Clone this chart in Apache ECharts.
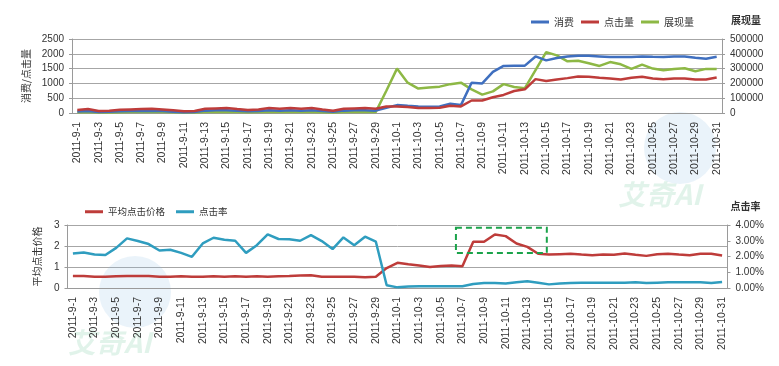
<!DOCTYPE html>
<html>
<head>
<meta charset="utf-8">
<script src="https://cdn.jsdelivr.net/npm/echarts@6/dist/echarts.min.js"></script>
<style>
html,body{margin:0;padding:0;background:#fff;}
#c{width:779px;height:366px;}
</style>
</head>
<body>
<div id="c"></div>
<script>
const dates = ['2011-9-1','2011-9-2','2011-9-3','2011-9-4','2011-9-5','2011-9-6','2011-9-7','2011-9-8','2011-9-9','2011-9-10',
'2011-9-11','2011-9-12','2011-9-13','2011-9-14','2011-9-15','2011-9-16','2011-9-17','2011-9-18','2011-9-19','2011-9-20',
'2011-9-21','2011-9-22','2011-9-23','2011-9-24','2011-9-25','2011-9-26','2011-9-27','2011-9-28','2011-9-29','2011-9-30',
'2011-10-1','2011-10-2','2011-10-3','2011-10-4','2011-10-5','2011-10-6','2011-10-7','2011-10-8','2011-10-9','2011-10-10',
'2011-10-11','2011-10-12','2011-10-13','2011-10-14','2011-10-15','2011-10-16','2011-10-17','2011-10-18','2011-10-19','2011-10-20',
'2011-10-21','2011-10-22','2011-10-23','2011-10-24','2011-10-25','2011-10-26','2011-10-27','2011-10-28','2011-10-29','2011-10-30','2011-10-31'];

// 消费 (top, left axis)
const spend = [50,70,30,40,60,65,70,80,65,45,25,30,80,90,95,75,55,65,95,80,95,80,95,65,40,80,90,95,80,180,
267,244,222,211,222,311,267,1022,1000,1389,1589,1600,1600,1911,1778,1856,1911,1933,1933,1911,1889,1889,1889,1911,1900,1890,1911,1911,1867,1833,1900];
// 点击量 (top, left axis)
const clicks = [100,133,67,78,111,122,133,144,122,89,56,67,144,156,167,133,100,122,167,144,167,144,167,122,78,144,156,167,144,222,
222,200,167,167,178,244,222,422,422,533,611,744,800,1144,1078,1133,1178,1233,1222,1189,1167,1133,1189,1222,1167,1144,1167,1167,1133,1133,1200];
// 展现量 (top, right axis)
const impressions = [5000,6000,4000,4000,5000,6000,6000,7000,6000,5000,3000,4000,6000,7000,8000,6000,5000,6000,7000,6000,7000,6000,7000,5000,4000,6000,7000,7000,6000,150000,
300000,205000,165000,172000,178000,195000,205000,160000,124000,146000,195000,176000,168000,290000,411000,389000,349000,353000,336000,318000,344000,329000,298000,327000,300000,289000,298000,302000,282000,298000,298000];
// 平均点击价格 (bottom, left axis)
const avgCpc = [0.57,0.57,0.54,0.54,0.56,0.57,0.57,0.57,0.54,0.54,0.56,0.53,0.54,0.56,0.54,0.56,0.54,0.56,0.54,0.56,0.57,0.59,0.61,0.54,0.54,0.54,0.54,0.51,0.54,0.95,
1.20,1.13,1.07,1.00,1.05,1.07,1.04,2.20,2.20,2.55,2.47,2.12,1.96,1.63,1.59,1.61,1.63,1.59,1.56,1.59,1.58,1.64,1.58,1.53,1.61,1.63,1.59,1.56,1.63,1.63,1.55];
// 点击率 in percent (bottom, right axis)
const ctr = [2.19,2.26,2.13,2.09,2.55,3.15,2.98,2.79,2.38,2.43,2.23,1.98,2.83,3.19,3.06,3.00,2.23,2.72,3.40,3.11,3.09,3.00,3.36,2.98,2.47,3.21,2.72,3.26,2.94,0.17,
0.04,0.09,0.11,0.11,0.11,0.11,0.11,0.26,0.32,0.32,0.28,0.36,0.43,0.34,0.23,0.28,0.32,0.34,0.34,0.34,0.34,0.34,0.36,0.32,0.34,0.36,0.36,0.36,0.36,0.32,0.38];

const leftTicksTop = {min:0, max:2500, interval:500};
const rightTicksTop = {min:0, max:500000, interval:100000};
const leftTicksBot = {min:0, max:3, interval:1};
const rightTicksBot = {min:0, max:4, interval:1};
// highlight box (category index range, left-axis value range)
const boxRange = {x0:35.4, x1:43.8, y0:2.87, y1:1.67};

const FONT = "'Liberation Sans', Arial, 'Noto Sans CJK SC', sans-serif";
const CJK = "'Noto Sans CJK SC', sans-serif";
const C_BLUE = '#3F6FBF', C_RED = '#BE3C3A', C_GREEN = '#8DB845', C_TEAL = '#2F9DBF';
const AX = '#9a9a9a';

const chart = echarts.init(document.getElementById('c'), null, {renderer:'canvas'});

function xAx(grid){
  return {type:'category', gridIndex:grid, data:dates, boundaryGap:true,
    axisLine:{lineStyle:{color:AX}}, axisTick:{show:false},
    axisLabel:{interval:1, rotate:90, fontSize:10.5, margin:9, color:'#333', fontFamily:FONT}};
}
function yAx(grid, t, pos, extra){
  return Object.assign({type:'value', gridIndex:grid, position:pos, min:t.min, max:t.max, interval:t.interval,
    axisLine:{show:true, lineStyle:{color:AX}},
    axisTick:{show:true, length:3, lineStyle:{color:AX}},
    splitLine:{show:pos==='left', lineStyle:{color:'#a6a6a6'}},
    axisLabel:{fontSize:10, color:'#333', fontFamily:FONT, margin:8, formatter:v=>String(v)}}, extra||{});
}

const option = {
  animation:false,
  backgroundColor:'#fff',
  grid:[
    {left:72, top:39, width:650, height:74},
    {left:67.5, top:225, width:660, height:63}
  ],
  legend:[
    {left:526, top:12, itemWidth:18, itemHeight:3, itemGap:7, icon:'rect',
     textStyle:{fontSize:10, fontFamily:CJK, color:'#333'},
     data:['消费','点击量','展现量']},
    {left:80, top:202, itemWidth:18, itemHeight:3, itemGap:11, icon:'rect',
     textStyle:{fontSize:9.5, fontFamily:CJK, color:'#333'},
     data:['平均点击价格','点击率']}
  ],
  xAxis:[xAx(0), xAx(1)],
  yAxis:[
    yAx(0, leftTicksTop, 'left', {name:'消费/点击量', nameLocation:'middle', nameGap:40,
      nameTextStyle:{fontSize:10, fontFamily:CJK, color:'#333'}}),
    yAx(0, rightTicksTop, 'right', {name:'展现量', nameLocation:'end', nameGap:14,
      nameTextStyle:{fontSize:10, fontWeight:'bold', fontFamily:CJK, color:'#333', align:'left', padding:[0,0,0,9]}}),
    yAx(1, leftTicksBot, 'left', {name:'平均点击价格', nameLocation:'middle', nameGap:25,
      nameTextStyle:{fontSize:10, fontFamily:CJK, color:'#333'}}),
    yAx(1, rightTicksBot, 'right', {name:'点击率', nameLocation:'end', nameGap:14,
      nameTextStyle:{fontSize:10, fontWeight:'bold', fontFamily:CJK, color:'#333', align:'left', padding:[0,0,0,3]},
      axisLabel:{fontSize:10, color:'#333', fontFamily:FONT, margin:8, formatter:v=>v.toFixed(2)+'%'}})
  ],
  series:[
    {name:'消费', type:'line', xAxisIndex:0, yAxisIndex:0, data:spend, showSymbol:false, lineStyle:{width:2.5, color:C_BLUE}, itemStyle:{color:C_BLUE}, z:3},
    {name:'点击量', type:'line', xAxisIndex:0, yAxisIndex:0, data:clicks, showSymbol:false, lineStyle:{width:2.5, color:C_RED}, itemStyle:{color:C_RED}, z:4},
    {name:'展现量', type:'line', xAxisIndex:0, yAxisIndex:1, data:impressions, showSymbol:false, lineStyle:{width:2.5, color:C_GREEN}, itemStyle:{color:C_GREEN}, z:2},
    {name:'平均点击价格', type:'line', xAxisIndex:1, yAxisIndex:2, data:avgCpc, showSymbol:false, lineStyle:{width:2.5, color:C_RED}, itemStyle:{color:C_RED}, z:3},
    {name:'点击率', type:'line', xAxisIndex:1, yAxisIndex:3, data:ctr, showSymbol:false, lineStyle:{width:2.5, color:C_TEAL}, itemStyle:{color:C_TEAL}, z:3}
  ]
};
chart.setOption(option);

// annotation box and faint watermarks
const pA = chart.convertToPixel({xAxisIndex:1, yAxisIndex:2}, [0, 0]);
const pB = chart.convertToPixel({xAxisIndex:1, yAxisIndex:2}, [60, 3]);
const fx = i => pA[0] + (pB[0]-pA[0]) * i / 60;
const fy = v => pA[1] + (pB[1]-pA[1]) * v / 3;
const bx0 = fx(boxRange.x0), bx1 = fx(boxRange.x1), by0 = fy(boxRange.y0), by1 = fy(boxRange.y1);

chart.setOption({graphic:[
  {type:'circle', shape:{cx:680, cy:148, r:36}, style:{fill:'rgba(140,190,225,0.18)'}, z:0, silent:true},
  {type:'circle', shape:{cx:135, cy:292, r:36}, style:{fill:'rgba(140,190,225,0.18)'}, z:0, silent:true},
  {type:'text', left:618, top:180, style:{text:'艾奇AI', fontSize:28, fontWeight:'bold', fontStyle:'italic', fontFamily:CJK, fill:'rgba(120,200,160,0.22)'}, z:0, silent:true},
  {type:'text', left:68, top:328, style:{text:'艾奇AI', fontSize:28, fontWeight:'bold', fontStyle:'italic', fontFamily:CJK, fill:'rgba(120,200,160,0.22)'}, z:0, silent:true},
  {type:'rect', shape:{x:bx0, y:by0, width:bx1-bx0, height:by1-by0}, style:{fill:'none', stroke:'#1aa34a', lineWidth:2, lineDash:[6,4]}, z:100, silent:true}
]});
</script>
</body>
</html>
